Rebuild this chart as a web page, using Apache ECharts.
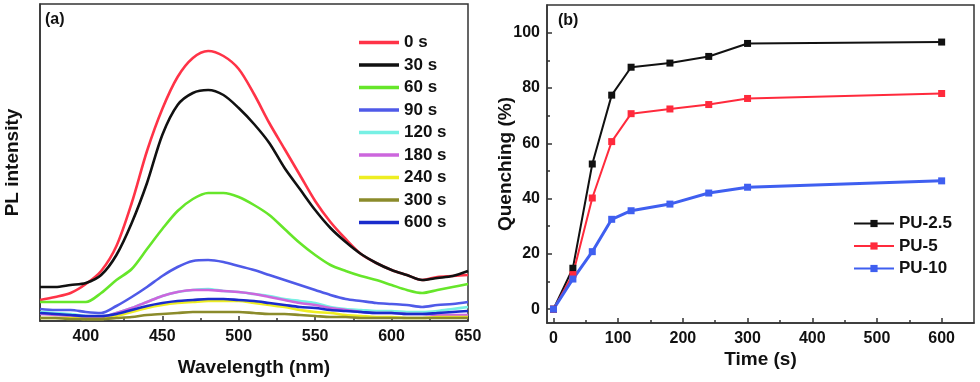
<!DOCTYPE html>
<html>
<head>
<meta charset="utf-8">
<script src="https://cdn.jsdelivr.net/npm/echarts@6/dist/echarts.min.js"></script>
<style>
html,body{margin:0;padding:0;background:#fff;}
#chart{width:980px;height:382px;}
</style>
</head>
<body>
<div id="chart"></div>
<script>
// ---- Panel (a): PL spectra ----
const wavelengths = [370,380,390,400,410,420,430,440,450,460,470,480,490,500,510,520,530,540,550,560,570,580,590,600,610,620,630,640,650];
const spectrumNames = ['0 s','30 s','60 s','90 s','120 s','180 s','240 s','300 s','600 s'];
const pl_0s   = [21,24,28,37,50,75,118,170,212,244,263,270,265,252,227,198,172,146,120,99,82,67,58,51,46,41,44,45,46];
const pl_30s  = [34,34,36,38,46,66,98,138,186,216,228,231,226,213,197,178,153,132,111,93,79,67,58,51,46,41,43,45,50];
const pl_60s  = [19,19,19,19,28,41,52,72,92,110,122,128,128,124,116,106,92,78,66,56,50,45,41,36,31,28,31,34,37];
const pl_90s  = [12,11,11,9,8,15,24,34,45,54,60,61,59,55,51,46,41,36,31,26,22,20,18,17,16,14,16,17,19];
const pl_120s = [9,8,7,5,4,8,13,19,25,29,31,32,30,29,27,25,22,20,18,14,12,11,10,10,9,9,10,12,14];
const pl_180s = [7,6,5,4,4,8,13,19,25,29,31,31,30,29,27,24,21,18,16,13,11,9,8,8,7,7,6,6,6];
const pl_240s = [3,3,3,2,2,5,9,13,16,18,19,20,20,20,18,16,14,11,9,8,6,5,4,4,3,3,4,4,4];
const pl_300s = [3,3,2,2,2,3,4,6,7,8,9,9,9,9,8,7,7,6,5,4,4,3,3,3,3,3,3,3,3];
const pl_600s = [8,7,6,5,5,7,11,15,18,20,21,22,22,21,20,18,16,14,13,11,10,9,8,8,7,7,8,9,10];
const spectra = [pl_0s,pl_30s,pl_60s,pl_90s,pl_120s,pl_180s,pl_240s,pl_300s,pl_600s];
const spectrumColors = ['#ff3347','#111111','#66e62a','#4f5ae8','#77f0e4','#cc66dd','#eeee22','#8b8b2b','#1a2ccc'];
const wlTicks = [400,450,500,550,600,650];
const wlMinorTicks = [425,475,525,575,625];

// ---- Panel (b): quenching ----
const times = [0,30,60,90,120,180,240,300,600];
const quenchNames = ['PU-2.5','PU-5','PU-10'];
const q_pu25 = [0,14.8,52.5,77.4,87.5,89.0,91.4,96.1,96.6];
const q_pu5  = [0,12.5,40.2,60.6,70.7,72.4,74.0,76.2,78.0];
const q_pu10 = [0,10.9,20.8,32.5,35.6,38.0,42.0,44.1,46.4];
const quench = [q_pu25,q_pu5,q_pu10];
const quenchColors = ['#111111','#ff2a3c','#3f5ff0'];
const quenchWidths = [2,2,3];
const timeTicks = [0,100,200,300,400,500,600];
const timeMinorTicks = [50,150,250,350,450,550];
const qTicks = [0,20,40,60,80,100];
const qMinorTicks = [10,30,50,70,90];

const FONT = '"Liberation Sans", Arial, sans-serif';
const AXC = '#333';

const chart = echarts.init(document.getElementById('chart'), null, {renderer:'canvas'});

const series = [];
spectra.forEach((arr, i) => {
  series.push({
    name: spectrumNames[i], type: 'line', xAxisIndex: 0, yAxisIndex: 0,
    data: wavelengths.map((w, k) => [w, arr[k]]),
    smooth: 0.3, symbol: 'none', showSymbol: false,
    lineStyle: {width: 2.6, color: spectrumColors[i]},
    itemStyle: {color: spectrumColors[i]},
    animation: false
  });
});
quench.forEach((arr, i) => {
  series.push({
    name: quenchNames[i], type: 'line', xAxisIndex: 2, yAxisIndex: 1,
    data: times.map((t, k) => [t, arr[k]]),
    symbol: 'rect', symbolSize: 7,
    lineStyle: {width: quenchWidths[i], color: quenchColors[i]},
    itemStyle: {color: quenchColors[i]},
    animation: false
  });
});

function majorX(gridIndex, min, max, ticks, name, nameGap) {
  return {
    type: 'value', gridIndex, min, max, position: 'bottom',
    name, nameLocation: 'middle', nameGap, nameMoveOverlap: false,
    nameTextStyle: {fontFamily: FONT, fontWeight: 'bold', fontSize: 19, color: '#111'},
    axisLine: {show: true, onZero: false, lineStyle: {color: AXC, width: 1.5}},
    axisTick: {show: true, inside: true, length: 5, customValues: ticks, lineStyle: {color: AXC, width: 1.5}},
    axisLabel: {show: true, customValues: ticks, margin: 8, fontFamily: FONT, fontWeight: 'bold', fontSize: 16, color: '#111'},
    splitLine: {show: false}
  };
}
function minorX(gridIndex, min, max, ticks) {
  return {
    type: 'value', gridIndex, min, max, position: 'bottom',
    axisLine: {show: false, onZero: false},
    axisTick: {show: true, inside: true, length: 3, customValues: ticks, lineStyle: {color: AXC, width: 1.5}},
    axisLabel: {show: false, customValues: ticks},
    splitLine: {show: false}
  };
}

const option = {
  backgroundColor: '#fff',
  animation: false,
  grid: [
    {left: 40, right: 512, top: 4, bottom: 61, show: true, borderColor: AXC, borderWidth: 1.5, containLabel: false},
    {left: 547, right: 6, top: 5, bottom: 59, show: true, borderColor: AXC, borderWidth: 1.5, containLabel: false}
  ],
  xAxis: [
    majorX(0, 370, 650, wlTicks, 'Wavelength (nm)', 37),
    minorX(0, 370, 650, wlMinorTicks),
    majorX(1, -10, 650, timeTicks, 'Time (s)', 27),
    minorX(1, -10, 650, timeMinorTicks)
  ],
  yAxis: [
    {
      type: 'value', gridIndex: 0, min: 0, max: 317, position: 'left',
      name: 'PL intensity', nameLocation: 'middle', nameGap: 18, nameMoveOverlap: false,
      nameTextStyle: {fontFamily: FONT, fontWeight: 'bold', fontSize: 19, color: '#111'},
      axisLine: {show: true, lineStyle: {color: AXC, width: 1.5}},
      axisTick: {show: false}, axisLabel: {show: false}, splitLine: {show: false}
    },
    {
      type: 'value', gridIndex: 1, min: -5, max: 110, position: 'left',
      name: 'Quenching (%)', nameLocation: 'middle', nameGap: 32, nameMoveOverlap: false,
      nameTextStyle: {fontFamily: FONT, fontWeight: 'bold', fontSize: 19, color: '#111'},
      axisLine: {show: true, onZero: false, lineStyle: {color: AXC, width: 1.5}},
      axisTick: {show: true, inside: true, length: 5, customValues: qTicks, lineStyle: {color: AXC, width: 1.5}},
      axisLabel: {show: true, customValues: qTicks, margin: 7, fontFamily: FONT, fontWeight: 'bold', fontSize: 16, color: '#111'},
      splitLine: {show: false}
    },
    {
      type: 'value', gridIndex: 1, min: -5, max: 110, position: 'left',
      axisLine: {show: false, onZero: false},
      axisTick: {show: true, inside: true, length: 3, customValues: qMinorTicks, lineStyle: {color: AXC, width: 1.5}},
      axisLabel: {show: false, customValues: qMinorTicks},
      splitLine: {show: false}
    }
  ],
  legend: [
    {
      data: spectrumNames, orient: 'vertical', left: 359, top: 34, padding: 0,
      itemWidth: 40, itemHeight: 3.5, itemGap: 5.5,
      icon: 'rect',
      itemStyle: {borderWidth: 0},
      textStyle: {fontFamily: FONT, fontWeight: 'bold', fontSize: 17, color: '#111', lineHeight: 17},
      selectedMode: false
    },
    {
      data: quenchNames, orient: 'vertical', left: 853, top: 215, padding: 0,
      itemWidth: 40, itemHeight: 9, itemGap: 5.5,
      textStyle: {fontFamily: FONT, fontWeight: 'bold', fontSize: 17, color: '#111', lineHeight: 17},
      selectedMode: false
    }
  ],
  graphic: [
    {type: 'text', left: 45, top: 12, style: {text: '(a)', font: 'bold 16px ' + FONT, fill: '#111'}},
    {type: 'text', left: 558, top: 13, style: {text: '(b)', font: 'bold 16px ' + FONT, fill: '#111'}}
  ],
  series
};
chart.setOption(option);
</script>
</body>
</html>
